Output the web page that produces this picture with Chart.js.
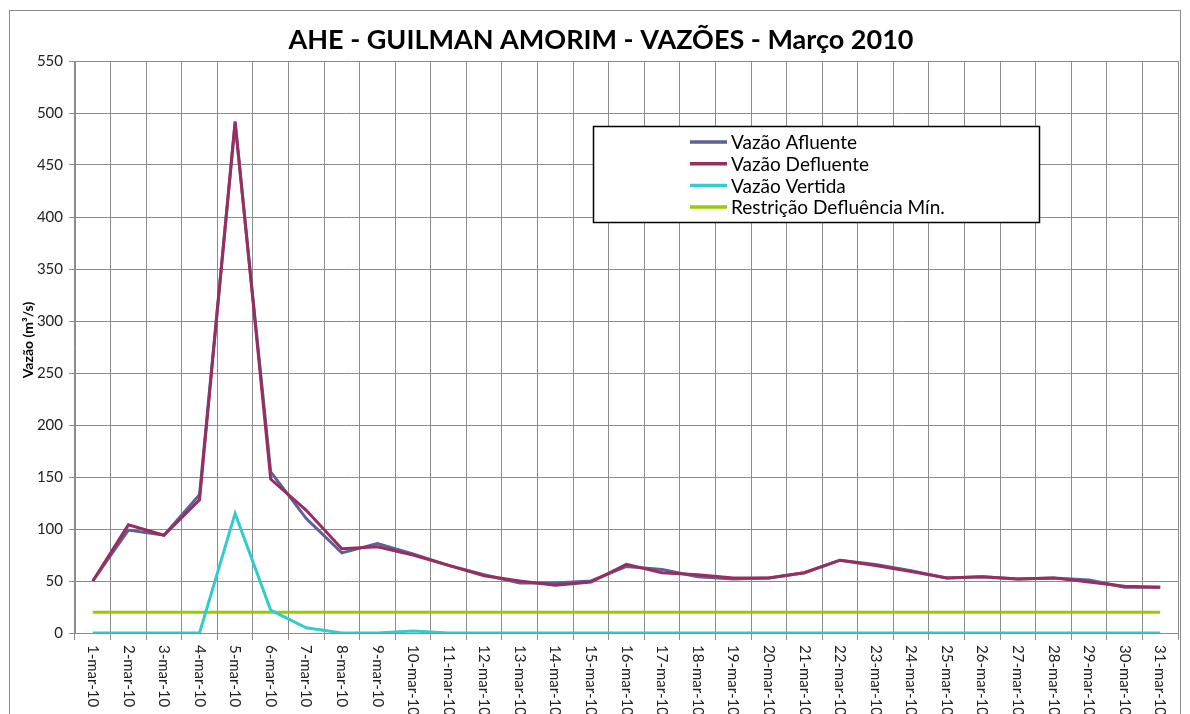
<!DOCTYPE html>
<html>
<head>
<meta charset="utf-8">
<script src="https://cdn.jsdelivr.net/npm/chart.js@4.4.1/dist/chart.umd.min.js"></script>
<style>
  html, body { margin: 0; padding: 0; background: #fff; }
  #wrap { width: 1190px; height: 714px; }
</style>
</head>
<body>
<div id="wrap"><canvas id="vazoesChart" width="1190" height="714"></canvas></div>
<script>
// dias de março 2010
var dias = ['1-mar-10', '2-mar-10', '3-mar-10', '4-mar-10', '5-mar-10', '6-mar-10', '7-mar-10', '8-mar-10', '9-mar-10', '10-mar-10',
    '11-mar-10', '12-mar-10', '13-mar-10', '14-mar-10', '15-mar-10', '16-mar-10', '17-mar-10', '18-mar-10', '19-mar-10', '20-mar-10',
    '21-mar-10', '22-mar-10', '23-mar-10', '24-mar-10', '25-mar-10', '26-mar-10', '27-mar-10', '28-mar-10', '29-mar-10', '30-mar-10', '31-mar-10'];

var afluente = [50, 99, 94, 133, 490, 155, 110, 77, 86, 76, 65, 56, 48, 48, 50, 64, 61, 54, 52, 53, 58, 70, 66, 60, 53, 54, 52, 53, 51, 44, 44];
var defluente = [50, 104, 94, 128, 492, 148, 118, 81, 83, 75, 65, 55, 50, 46, 49, 66, 58, 56, 53, 53, 58, 70, 65, 59, 53, 54, 52, 53, 49, 45, 44];
var vertida = [0, 0, 0, 0, 115, 22, 5, 0, 0, 2, 0, 0, 0, 0, 0, 0, 0, 0, 0, 0, 0, 0, 0, 0, 0, 0, 0, 0, 0, 0, 0];
var restricao = [20, 20, 20, 20, 20, 20, 20, 20, 20, 20, 20, 20, 20, 20, 20, 20, 20, 20, 20, 20, 20, 20, 20, 20, 20, 20, 20, 20, 20, 20, 20];

var yTicks = [0, 50, 100, 150, 200, 250, 300, 350, 400, 450, 500, 550];

var FONT = 'Lato, "Open Sans", sans-serif';
var GRID = '#8c8c8c';

// moldura, título, legenda e rótulos do eixo X
var excelLook = {
    id: 'excelLook',
    beforeDraw: function (chart) {
        var ctx = chart.ctx;
        ctx.save();
        ctx.fillStyle = '#fff';
        ctx.fillRect(0, 0, chart.width, chart.height);
        ctx.strokeStyle = '#8c8c8c';
        ctx.lineWidth = 1;
        ctx.strokeRect(9.5, 10.5, 1171, 720);
        ctx.restore();
    },
    afterDraw: function (chart) {
        var ctx = chart.ctx;
        ctx.save();

        // título
        ctx.fillStyle = '#000';
        ctx.font = 'bold 27px ' + FONT;
        ctx.textAlign = 'center';
        ctx.textBaseline = 'middle';
        ctx.fillText('AHE - GUILMAN AMORIM - VAZÕES - Março 2010', 601, 40);

        // título do eixo Y
        ctx.save();
        ctx.translate(28, 340);
        ctx.rotate(-Math.PI / 2);
        ctx.font = 'bold 14px ' + FONT;
        ctx.fillText('Vazão (m³/s)', 0, 0);
        ctx.restore();

        // rótulos do eixo X (girados no sentido horário)
        var xs = chart.scales.x;
        ctx.font = '15px ' + FONT;
        ctx.fillStyle = '#222';
        ctx.textAlign = 'left';
        ctx.textBaseline = 'middle';
        dias.forEach(function (d, i) {
            ctx.save();
            ctx.translate(xs.getPixelForTick(i), xs.top + 12);
            ctx.rotate(Math.PI / 2);
            ctx.fillText(d, 0, 0);
            ctx.restore();
        });

        // legenda
        ctx.fillStyle = '#fff';
        ctx.fillRect(593.5, 126.5, 446, 96);
        ctx.strokeStyle = '#000';
        ctx.lineWidth = 1.5;
        ctx.strokeRect(593.5, 126.5, 446, 96);
        ctx.font = '19px ' + FONT;
        ctx.textAlign = 'left';
        chart.data.datasets.forEach(function (ds, i) {
            var y = 142 + i * 21.7;
            ctx.strokeStyle = ds.borderColor;
            ctx.lineWidth = 3.5;
            ctx.beginPath();
            ctx.moveTo(690, y);
            ctx.lineTo(727, y);
            ctx.stroke();
            ctx.fillStyle = '#000';
            ctx.fillText(ds.label, 731, y + 1);
        });
        ctx.restore();
    }
};

var vazoes = document.getElementById('vazoesChart').getContext('2d');
var vazoesChart = new Chart(vazoes, {
    type: 'line',
    data: {
        labels: dias,
        datasets: [
            {
                label: 'Vazão Afluente',
                borderColor: 'rgb(94, 96, 152)',
                data: afluente,
                order: 1
            },
            {
                label: 'Vazão Defluente',
                borderColor: 'rgb(152, 46, 96)',
                data: defluente,
                order: 0
            },
            {
                label: 'Vazão Vertida',
                borderColor: 'rgb(51, 204, 204)',
                data: vertida,
                order: 2
            },
            {
                label: 'Restrição Defluência Mín.',
                borderColor: 'rgb(153, 204, 0)',
                data: restricao,
                order: 3
            }
        ]
    },
    options: {
        responsive: false,
        animation: false,
        layout: { padding: { left: 10, right: 12, top: 61, bottom: 0 } },
        elements: {
            point: { radius: 0 },
            line: { borderWidth: 3, tension: 0, fill: false }
        },
        plugins: {
            legend: { display: false },
            title: { display: false },
            tooltip: { enabled: false }
        },
        scales: {
            x: {
                offset: true,
                grid: { offset: true, color: GRID, lineWidth: 1, tickLength: 7 },
                border: { color: GRID },
                ticks: { display: false },
                afterFit: function (s) { s.height = 81; }
            },
            y: {
                min: 0,
                max: 550,
                afterBuildTicks: function (s) { s.ticks = yTicks.map(function (v) { return { value: v }; }); },
                grid: { color: GRID, lineWidth: 1, tickLength: 6 },
                border: { color: GRID },
                ticks: { color: '#222', font: { family: FONT, size: 15 }, padding: 6 },
                afterFit: function (s) { s.width = 65; }
            }
        }
    },
    plugins: [excelLook]
});
</script>
</body>
</html>
